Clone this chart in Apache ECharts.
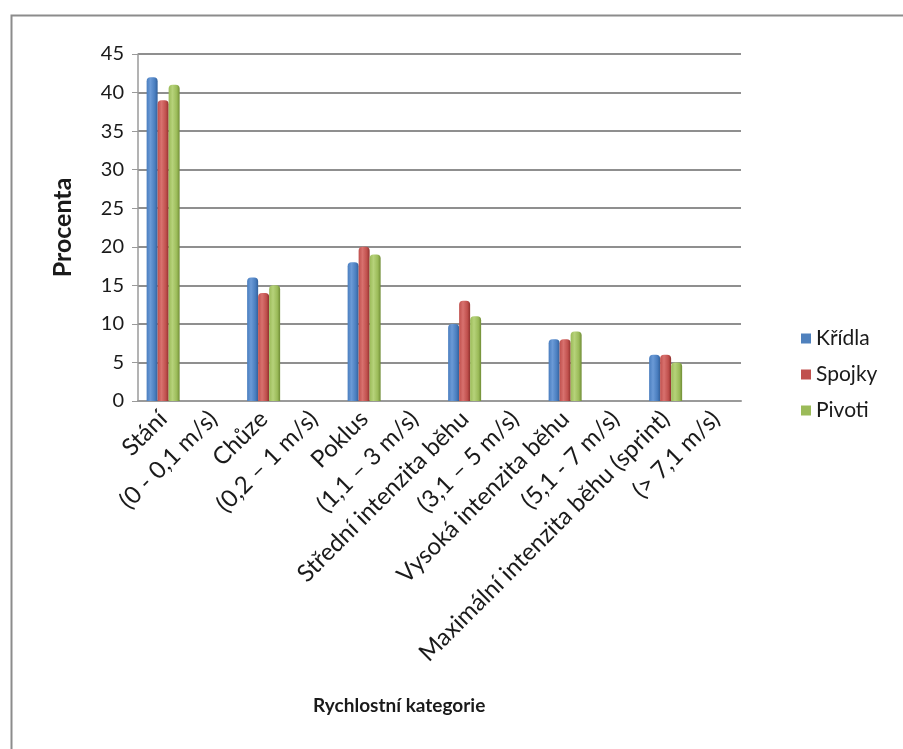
<!DOCTYPE html>
<html>
<head>
<meta charset="utf-8">
<script src="https://cdn.jsdelivr.net/npm/echarts@6/dist/echarts.min.js"></script>
<style>
  html, body { margin: 0; padding: 0; background: #fff; }
  #chart { width: 903px; height: 749px; }
</style>
</head>
<body>
<div id="chart"></div>
<script>
// Speed categories: each activity name is followed by its speed range
const categories = [
  'Stání', '(0 - 0,1 m/s)',
  'Chůze', '(0,2 – 1 m/s)',
  'Poklus', '(1,1 – 3 m/s)',
  'Střední intenzita běhu', '(3,1 – 5 m/s)',
  'Vysoká intenzita běhu', '(5,1 - 7 m/s)',
  'Maximální intenzita běhu (sprint)', '(> 7,1 m/s)'
];

// Percent of time per player position (range slots carry no bar)
const kridla = [42, null, 16, null, 18, null, 10, null, 8, null, 6, null];
const spojky = [39, null, 14, null, 20, null, 13, null, 8, null, 6, null];
const pivoti = [41, null, 15, null, 19, null, 11, null, 9, null, 5, null];

const seriesNames = ['Křídla', 'Spojky', 'Pivoti'];
const yTicks = { min: 0, max: 45, interval: 5 };

const FONT = 'Lato, "Open Sans", sans-serif';
const TEXT = '#1a1a1a';

// Cylinder-like shading for each column colour
function shade(dark, mid, light) {
  return new echarts.graphic.LinearGradient(0, 0, 1, 0, [
    { offset: 0, color: mid },
    { offset: 0.35, color: light },
    { offset: 0.75, color: mid },
    { offset: 1, color: dark }
  ]);
}

const colors = [
  shade('#33609a', '#4a7ebf', '#6b9ad6'),
  shade('#8f302d', '#c0504d', '#d8716e'),
  shade('#6f8c35', '#9bbb59', '#b6d27a')
];
const legendColors = ['#4f81bd', '#c0504d', '#9bbb59'];
const values = [kridla, spojky, pivoti];

const chart = echarts.init(document.getElementById('chart'), null, { renderer: 'canvas' });

chart.setOption({
  animation: false,
  backgroundColor: '#ffffff',
  textStyle: { fontFamily: FONT },
  graphic: [
    {
      // chart frame
      type: 'rect',
      left: 9, top: 13,
      shape: { width: 910, height: 760 },
      style: { fill: 'none', stroke: '#8c8c8c', lineWidth: 2 },
      silent: true, z: -10
    },
    {
      // category axis title, set below the slanted labels
      type: 'text',
      left: 313, top: 696,
      style: { text: 'Rychlostní kategorie', font: 'bold 19px ' + FONT, fill: TEXT },
      silent: true
    }
  ],
  legend: {
    orient: 'vertical',
    left: 796, top: 323,
    itemWidth: 10, itemHeight: 10,
    itemGap: 15,
    icon: 'rect',
    textStyle: { fontFamily: FONT, fontSize: 21, color: TEXT },
    data: seriesNames.map((n, i) => ({ name: n, itemStyle: { color: legendColors[i] } }))
  },
  grid: { left: 138, top: 54, width: 603, height: 347 },
  xAxis: {
    type: 'category',
    data: categories,
    axisLine: { lineStyle: { color: '#9a9a9a', width: 2 } },
    axisTick: { show: false },
    axisLabel: {
      interval: 0, rotate: 45, margin: 14,
      fontFamily: FONT, fontSize: 24, color: TEXT
    }
  },
  yAxis: {
    type: 'value',
    min: yTicks.min, max: yTicks.max, interval: yTicks.interval,
    name: 'Procenta',
    nameLocation: 'middle',
    nameGap: 63,
    nameTextStyle: { fontFamily: FONT, fontSize: 25, fontWeight: 'bold', color: TEXT },
    axisLine: { show: true, lineStyle: { color: '#9a9a9a', width: 1.5 } },
    axisTick: { show: true, length: 6, lineStyle: { color: '#9a9a9a' } },
    axisLabel: { margin: 14, fontFamily: FONT, fontSize: 20, color: TEXT },
    splitLine: { lineStyle: { color: '#8f8f8f', width: 2 } }
  },
  series: seriesNames.map((name, i) => ({
    name,
    type: 'bar',
    data: values[i],
    barWidth: 11,
    barGap: '0%',
    itemStyle: { color: colors[i], borderRadius: [4, 4, 0, 0] }
  }))
});
</script>
</body>
</html>
